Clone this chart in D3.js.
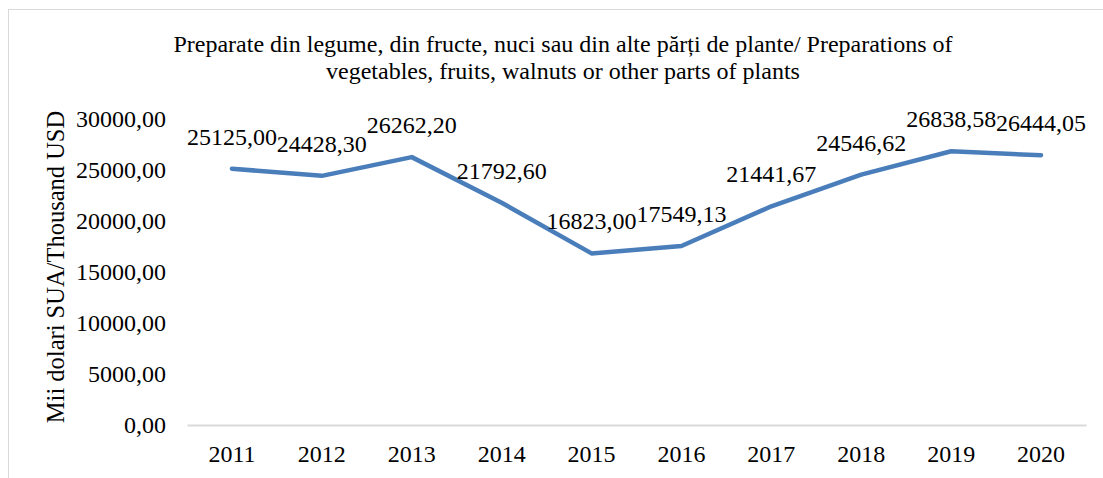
<!DOCTYPE html>
<html>
<head>
<meta charset="utf-8">
<script src="https://cdn.jsdelivr.net/npm/d3@7"></script>
<style>
  body { margin: 0; background: #fff; }
  svg text { font-family: "Liberation Serif", "Times New Roman", serif; fill: #000; }
</style>
</head>
<body>
<div id="chart"></div>
<script>
// data
let years = ["2011", "2012", "2013", "2014", "2015", "2016", "2017", "2018", "2019", "2020"];
let values = [25125.00, 24428.30, 26262.20, 21792.60, 16823.00, 17549.13, 21441.67, 24546.62, 26838.58, 26444.05];
let yTicks = [0, 5000, 10000, 15000, 20000, 25000, 30000];
let titleLines = ["Preparate din legume, din fructe, nuci sau din alte părți de plante/ Preparations of",
                  "vegetables, fruits, walnuts or other parts of plants"];
let yTitle = "Mii dolari SUA/Thousand USD";

let fmt = d => d.toFixed(2).replace(".", ",");

let W = 1103, H = 478;
let margin = {top: 119, right: 17, bottom: 53, left: 187};
let width = W - margin.left - margin.right;
let height = H - margin.top - margin.bottom;

let svg = d3.select("#chart").append("svg")
    .attr("width", W)
    .attr("height", H);

// outer chart border (only top and left visible in the picture)
svg.append("rect")
    .attr("x", 8.5).attr("y", 9.5)
    .attr("width", W + 20).attr("height", H + 20)
    .attr("fill", "none")
    .attr("stroke", "#d9d9d9")
    .attr("stroke-width", 1);

// title
svg.append("g").selectAll("text")
    .data(titleLines)
    .join("text")
    .attr("x", 563)
    .attr("y", (d, i) => 52 + i * 27)
    .attr("text-anchor", "middle")
    .style("font-size", "24px")
    .text(d => d);

let g = svg.append("g")
    .attr("transform", `translate(${margin.left},${margin.top})`);

let x = d3.scaleBand()
    .domain(years)
    .range([0, width]);

let y = d3.scaleLinear()
    .domain([0, 30000])
    .range([height, 0]);

// y axis labels
let yAxis = d3.axisLeft(y).tickValues(yTicks).tickFormat(fmt).tickSize(0).tickPadding(21);
g.append("g")
    .attr("class", "y-axis")
    .call(yAxis)
    .call(s => s.select(".domain").remove())
    .selectAll("text")
    .style("font-size", "24px")
    .attr("dy", "0.33em");

// x axis
let xAxis = d3.axisBottom(x).tickSize(0);
g.append("g")
    .attr("class", "x-axis")
    .attr("transform", `translate(0,${height})`)
    .call(xAxis)
    .call(s => s.select(".domain").attr("stroke", "#d9d9d9").attr("stroke-width", 2))
    .selectAll("text")
    .attr("y", 37)
    .attr("dy", null)
    .style("font-size", "24px");

// y axis title
svg.append("text")
    .attr("transform", `translate(64,${margin.top + height / 2 - 5}) rotate(-90)`)
    .attr("text-anchor", "middle")
    .style("font-size", "24.5px")
    .text(yTitle);

let cx = d => x(d.year) + x.bandwidth() / 2;
let pts = years.map((yr, i) => ({year: yr, value: values[i]}));

// line
g.append("path")
    .datum(pts)
    .attr("fill", "none")
    .attr("stroke", "#4a7ebb")
    .attr("stroke-width", 4.5)
    .attr("stroke-linejoin", "round")
    .attr("stroke-linecap", "round")
    .attr("d", d3.line().x(cx).y(d => y(d.value)));

// data labels above each point
g.append("g").selectAll("text")
    .data(pts)
    .join("text")
    .attr("x", cx)
    .attr("y", d => y(d.value) - 24)
    .attr("text-anchor", "middle")
    .style("font-size", "24px")
    .text(d => fmt(d.value));
</script>
</body>
</html>
